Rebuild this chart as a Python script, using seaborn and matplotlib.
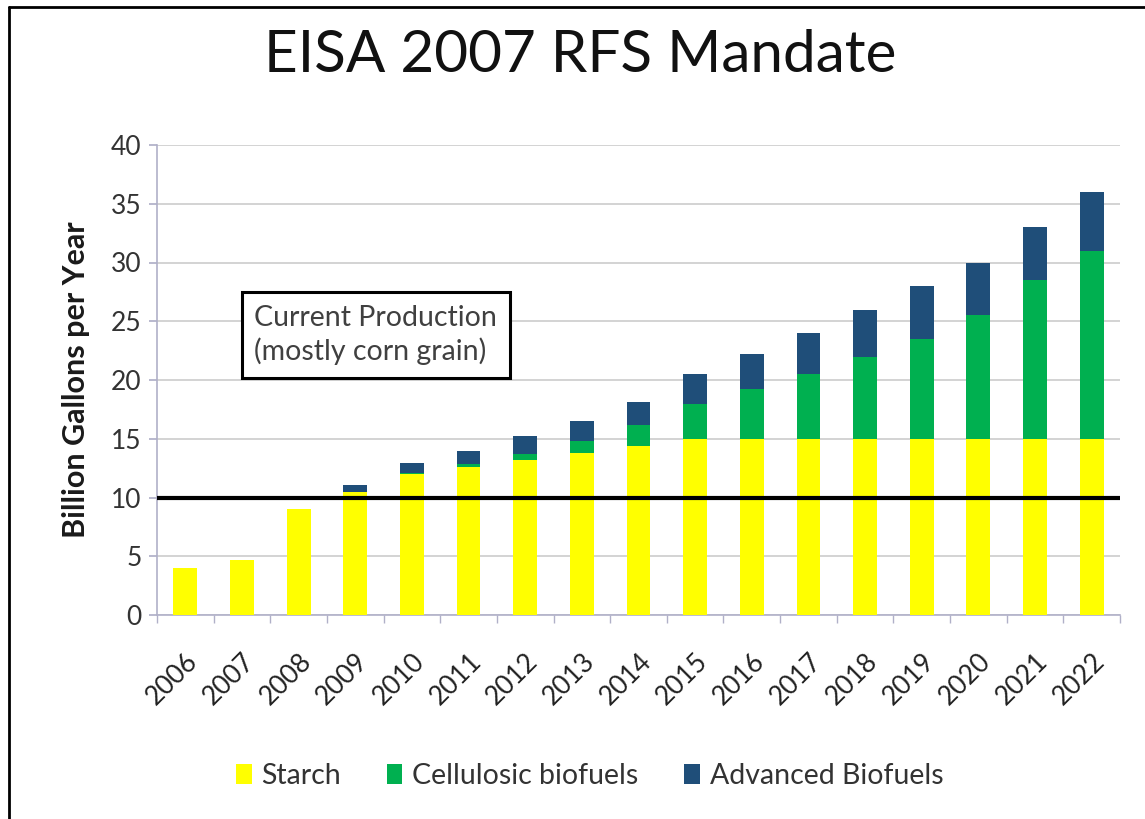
import matplotlib
matplotlib.use("Agg")
import matplotlib.pyplot as plt
import seaborn as sns
import pandas as pd
import numpy as np
from matplotlib.patches import Patch
from matplotlib.lines import Line2D

years = ["2006", "2007", "2008", "2009", "2010", "2011", "2012", "2013", "2014",
         "2015", "2016", "2017", "2018", "2019", "2020", "2021", "2022"]
starch = [4.0, 4.7, 9.0, 10.5, 12.0, 12.6, 13.2, 13.8, 14.4,
          15.0, 15.0, 15.0, 15.0, 15.0, 15.0, 15.0, 15.0]
cellulosic = [0.0, 0.0, 0.0, 0.0, 0.1, 0.25, 0.5, 1.0, 1.75,
              3.0, 4.25, 5.5, 7.0, 8.5, 10.5, 13.5, 16.0]
advanced = [0.0, 0.0, 0.0, 0.6, 0.85, 1.1, 1.5, 1.75, 2.0,
            2.5, 3.0, 3.5, 4.0, 4.5, 4.5, 4.5, 5.0]
series_names = ["Starch", "Cellulosic biofuels", "Advanced Biofuels"]
current_production = 10.0

colors = {"Starch": "#FFFF00", "Cellulosic biofuels": "#00B050", "Advanced Biofuels": "#1F4E79"}

sns.set_theme(style="white")
plt.rcParams['font.family'] = ['Lato', 'DejaVu Sans']

df = pd.DataFrame({"year": years, "starch": starch,
                   "cellulosic": cellulosic, "advanced": advanced})
df["s1"] = df["starch"]
df["s2"] = df["starch"] + df["cellulosic"]
df["s3"] = df["s2"] + df["advanced"]

fig = plt.figure(figsize=(11.45, 8.19), dpi=100)
ax = fig.add_axes([157/1145, 1-615/819, (1120-157)/1145, (615-145)/819])

ax.set_axisbelow(True)
ax.yaxis.grid(True, color="#cccccc", linewidth=1.2)

w = 0.42
for col, name, z in [("s3", "Advanced Biofuels", 2), ("s2", "Cellulosic biofuels", 3),
                     ("s1", "Starch", 4)]:
    sns.barplot(data=df, x="year", y=col, color=colors[name], width=w,
                saturation=1, ax=ax, zorder=z, linewidth=0, edgecolor="none")

ax.axhline(current_production, color="black", linewidth=3, zorder=5)

ax.set_xlim(-0.5, len(years) - 0.5)
ax.set_ylim(0, 40)
ax.set_yticks(np.arange(0, 41, 5))
ax.set_xlabel("")
ax.set_ylabel("Billion Gallons per Year", fontsize=22, fontweight="bold",
              color="#1a1a1a", labelpad=15)

for s in ["top", "right"]:
    ax.spines[s].set_visible(False)
ax.spines["left"].set_color("#b0b0c8")
ax.spines["bottom"].set_color("#b0b0c8")
ax.spines["left"].set_linewidth(1.2)
ax.spines["bottom"].set_linewidth(1.2)

ax.tick_params(axis="y", which="major", length=6, color="#b0b0c8", labelsize=19,
               labelcolor="#333333", pad=5, left=True)
ax.tick_params(axis="x", which="major", length=0, labelsize=19, labelcolor="#222222", pad=24)
for lbl in ax.get_xticklabels():
    lbl.set_rotation(45)
    lbl.set_ha("right")
    lbl.set_rotation_mode("anchor")
ax.set_xticks(np.arange(-0.5, len(years), 1.0), minor=True)
ax.tick_params(axis="x", which="minor", length=6, color="#b0b0c8", bottom=True)

ax.text(1.22, 23.85, "Current Production\n(mostly corn grain)", fontsize=20.5,
        color="#404040", va="center", ha="left", linespacing=1.3, zorder=6,
        bbox=dict(boxstyle="square,pad=0.45", facecolor="white",
                  edgecolor="black", linewidth=2.2))

fig.text(0.507, 1-55/819, "EISA 2007 RFS Mandate", fontsize=42, ha="center",
         va="center", color="#111111")

handles = [Patch(facecolor=colors[n], edgecolor="none") for n in series_names]
fig.legend(handles, series_names, loc="center", bbox_to_anchor=(0.515, 1-776/819),
           ncol=3, frameon=False, fontsize=20.5, handlelength=0.55, handleheight=0.75,
           handletextpad=0.35, columnspacing=1.6, labelcolor="#333333")

fig.add_artist(Line2D([9/1145, 1.0], [1-7/819, 1-7/819], color="black", linewidth=2,
                      transform=fig.transFigure))
fig.add_artist(Line2D([9/1145, 9/1145], [0.0, 1-7/819], color="black", linewidth=2,
                      transform=fig.transFigure))

fig.savefig("out.png", dpi=100, facecolor="white")
